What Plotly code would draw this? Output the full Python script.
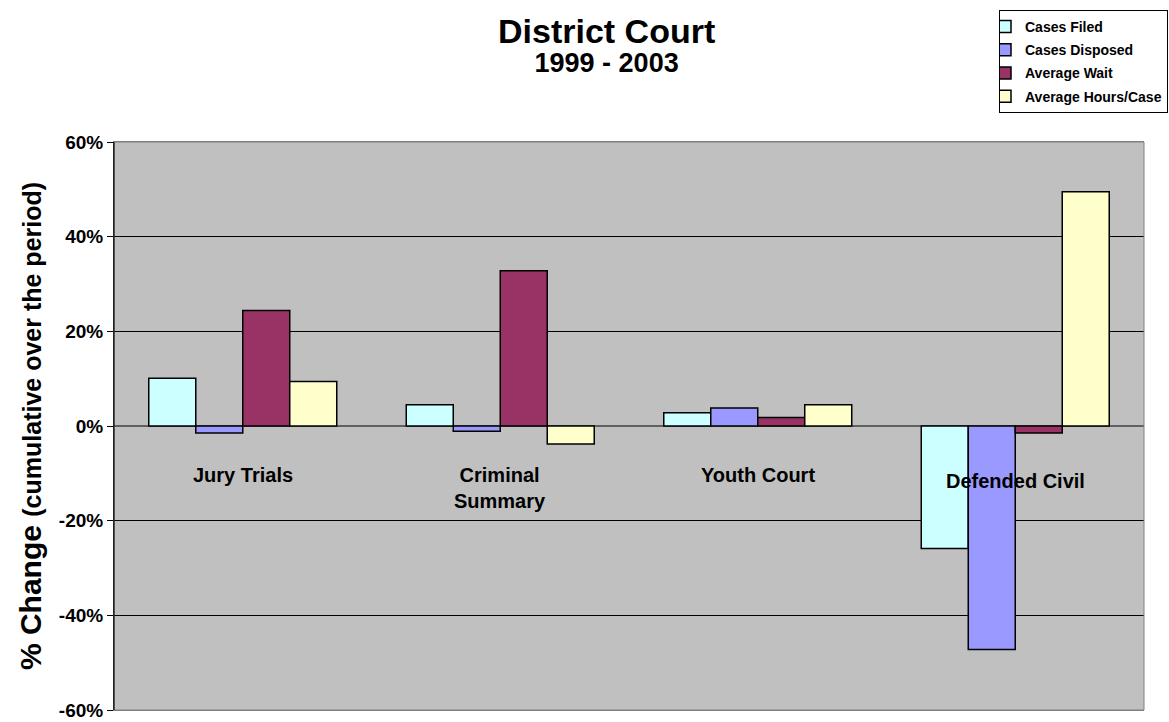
import plotly.graph_objects as go

categories = ["Jury Trials", "Criminal Summary", "Youth Court", "Defended Civil"]
category_labels = ["Jury Trials", "Criminal<br>Summary", "Youth Court", "Defended Civil"]
series_names = ["Cases Filed", "Cases Disposed", "Average Wait", "Average Hours/Case"]
cases_filed = [10.1, 4.5, 2.8, -25.9]
cases_disposed = [-1.5, -1.1, 3.8, -47.2]
average_wait = [24.4, 32.8, 1.8, -1.5]
average_hours = [9.4, -3.8, 4.5, 49.5]
y_ticks = [-60, -40, -20, 0, 20, 40, 60]
y_tick_labels = ["-60%", "-40%", "-20%", "0%", "20%", "40%", "60%"]

colors = ["#CCFFFF", "#9999FF", "#993366", "#FFFFCC"]
FONT = "Arial, 'Liberation Sans', Helvetica, sans-serif"
W, H = 1169, 722
L, R, T, B = 114, 25, 142, 12

fig = go.Figure()
for i, (name, vals) in enumerate(zip(series_names, [cases_filed, cases_disposed, average_wait, average_hours])):
    fig.add_trace(go.Bar(
        x=categories, y=vals, name="<b>%s</b>" % name, legendgroup=name,
        marker=dict(color=colors[i], line=dict(color="black", width=1.5)),
    ))

label_offsets = [-7.5, -7.5, -7.5, -8.9]
for cat, lab, off in zip(categories, category_labels, label_offsets):
    fig.add_annotation(x=cat, y=off, xref="x", yref="y", text="<b>%s</b>" % lab,
                       showarrow=False, yanchor="top", xanchor="center",
                       font=dict(family=FONT, size=20, color="black"))

ph = H - T - B
def py(pix):
    return 1 + (T - pix) / ph
def px(pix):
    return (pix - L) / (W - L - R)

fig.add_annotation(x=px(606), y=py(45), xref="paper", yref="paper", showarrow=False,
                   text="<b><span style='font-size:34px'>District Court</span></b><br>"
                        "<b><span style='font-size:27px'>1999 - 2003</span></b>",
                   xanchor="center", yanchor="middle",
                   font=dict(family=FONT, size=22, color="black"))

fig.update_layout(
    width=W, height=H,
    margin=dict(l=L, r=R, t=T, b=B, autoexpand=False),
    paper_bgcolor="white", plot_bgcolor="#C0C0C0",
    barmode="group", bargap=0.27, bargroupgap=0,
    font=dict(family=FONT, color="black"),
    legend=dict(
        xref="container", yref="container",
        x=999 / W, y=1 - 10 / H, xanchor="left", yanchor="top",
        bgcolor="white", bordercolor="black", borderwidth=1,
        font=dict(family=FONT, size=14, color="black"),
        traceorder="grouped", tracegroupgap=2, indentation=-15,
    ),
    xaxis=dict(showticklabels=False, ticks="", showgrid=False, zeroline=False,
               showline=True, linecolor="#808080", mirror=True),
    yaxis=dict(range=[-60, 60], tickvals=y_ticks, ticktext=["<b>%s</b>" % t for t in y_tick_labels],
               ticks="outside", ticklen=6, tickcolor="black",
               tickfont=dict(family=FONT, size=19, color="black"),
               showgrid=True, gridcolor="black", gridwidth=1,
               zeroline=True, zerolinecolor="#606060", zerolinewidth=1.5,
               showline=True, linecolor="black", linewidth=1,
               title=dict(text="<b>% Change <span style='font-size:25px'>(cumulative over the period)</span></b>",
                          font=dict(family=FONT, size=30, color="black"), standoff=8)),
)
fig.add_shape(type="rect", xref="paper", yref="paper", x0=0, x1=1, y0=0, y1=1,
              line=dict(color="#808080", width=1), layer="above")
fig.add_shape(type="line", xref="paper", yref="paper", x0=0, x1=0, y0=0, y1=1,
              line=dict(color="black", width=1), layer="above")

fig.write_html("out.html")
